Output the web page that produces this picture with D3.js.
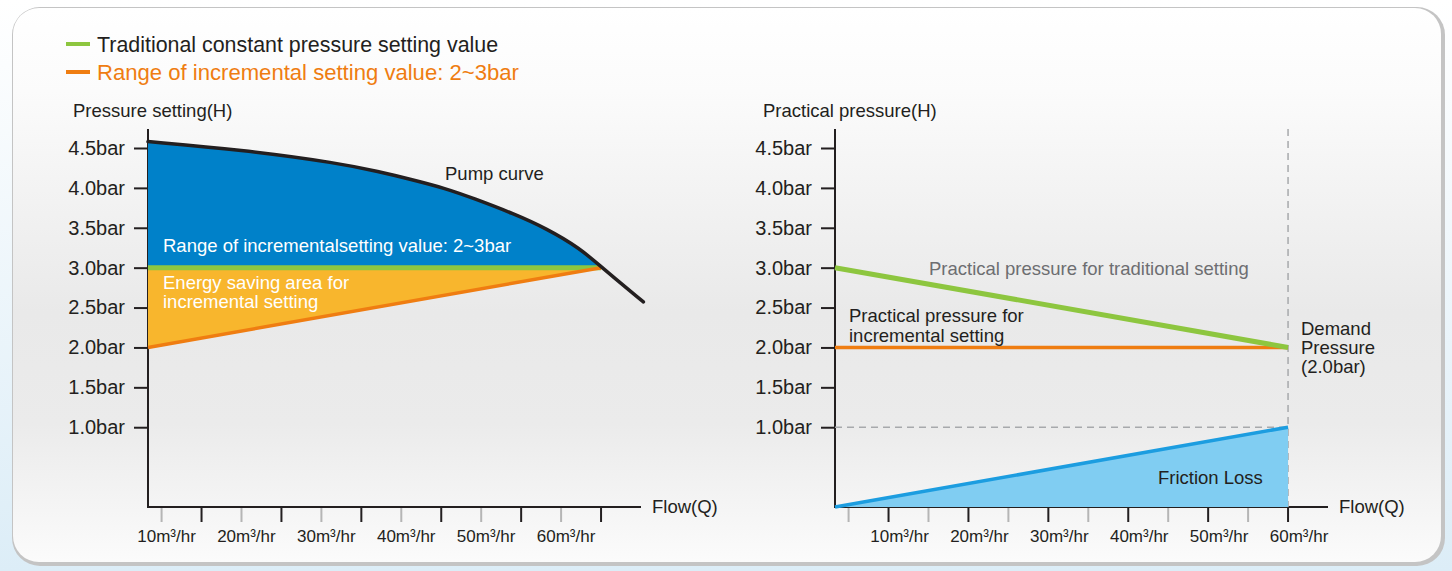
<!DOCTYPE html>
<html>
<head>
<meta charset="utf-8">
<script src="https://cdn.jsdelivr.net/npm/d3@7"></script>
<style>
  body { margin: 0; background: #fff; }
  svg { display: block; font-family: "Liberation Sans", Arial, sans-serif; }
</style>
</head>
<body>
<div class="canvas"></div>
<script>
// chart values

const flowTicks = [10, 20, 30, 40, 50, 60];
const flowMinorTicks = [5, 15, 25, 35, 45, 55];
const barTicks = [1.0, 1.5, 2.0, 2.5, 3.0, 3.5, 4.0, 4.5];

// pump curve (flow m3/hr, pressure bar)
const pumpFlow = [3.3, 14.8, 27.3, 32.3, 35.7, 40.7, 44.0, 49.0, 53.2, 57.4, 60, 65.3];
const pumpBar = [4.58, 4.48, 4.31, 4.20, 4.12, 3.99, 3.87, 3.68, 3.49, 3.24, 3.01, 2.57];

// left chart: settings
const settingFlow = [3.3, 60];
const traditionalSetting = [3.0, 3.0];
const incrementalSetting = [2.0, 3.0];

// right chart: practical pressure
const practicalFlow = [3.3, 60];
const practicalTraditional = [3.0, 2.0];
const practicalIncremental = [2.0, 2.0];
const frictionLoss = [0, 1.0];
const demandFlow = 60;
const demandBar = 1.0;

const W = 1452, H = 571;
const C = {
  text: '#231f20', green: '#8dc63f', orange: '#ef7d11', blue: '#0081c9',
  yellow: '#f8b62d', lightBlue: '#80cdf2', lineBlue: '#1c9de0', grey: '#6d6e71'
};

const svg = d3.select('.canvas').append('svg')
    .attr('width', W)
    .attr('height', H);

const defs = svg.append('defs');
const bg = defs.append('linearGradient').attr('id', 'pageBg')
    .attr('x1', 0).attr('y1', 0).attr('x2', 0).attr('y2', 1);
bg.append('stop').attr('offset', '0%').attr('stop-color', '#ffffff');
bg.append('stop').attr('offset', '100%').attr('stop-color', '#dcedf7');

const panelBg = defs.append('linearGradient').attr('id', 'panelBg')
    .attr('x1', 0).attr('y1', 0).attr('x2', 0).attr('y2', 1);
[[0, '#ffffff'], [0.15, '#fbfbfb'], [0.55, '#e9e9e9'], [0.75, '#ebebeb'], [1, '#fbfbfb']]
  .forEach(s => panelBg.append('stop').attr('offset', s[0]).attr('stop-color', s[1]));

svg.append('rect').attr('width', W).attr('height', H).attr('fill', 'url(#pageBg)');
svg.append('rect')
    .attr('x', 12).attr('y', 7).attr('width', 1433).attr('height', 559)
    .attr('rx', 28).attr('fill', '#c4c4c4');
svg.append('rect')
    .attr('x', 13).attr('y', 8).attr('width', 1428).attr('height', 554)
    .attr('rx', 26).attr('fill', 'url(#panelBg)');

// legend
const legend = [
  { label: 'Traditional constant pressure setting value', color: C.green, textColor: C.text, size: 21.4 },
  { label: 'Range of incremental setting value: 2~3bar', color: C.orange, textColor: C.orange, size: 22.1 }
];
legend.forEach((d, i) => {
  const g = svg.append('g').attr('transform', `translate(66, ${44 + i * 28})`);
  g.append('line').attr('x1', 0).attr('x2', 24)
      .attr('stroke', d.color).attr('stroke-width', 4);
  g.append('text').attr('x', 31).attr('dy', '0.35em')
      .attr('fill', d.textColor).style('font-size', d.size + 'px').text(d.label);
});

// scales shared shape
const y = d3.scaleLinear().domain([0, 4.5]).range([507, 148]);

function drawAxes(x0, labelDx, yTitle, titleX) {
  const x = d3.scaleLinear().domain([3.3, 65]).range([x0, x0 + 493]);
  const g = svg.append('g');

  // y axis
  const ya = g.append('g').attr('transform', `translate(${x0},0)`)
      .call(d3.axisLeft(y).tickValues(barTicks).tickSize(14).tickPadding(9)
        .tickFormat(d => d3.format('.1f')(d) + 'bar'));
  ya.select('.domain').remove();
  ya.selectAll('line').attr('stroke', C.text).attr('stroke-width', 2);
  ya.selectAll('text').attr('fill', C.text).style('font-size', '20px')
      .style('font-family', '"Liberation Sans", Arial, sans-serif');
  g.append('line').attr('x1', x0).attr('x2', x0).attr('y1', 129).attr('y2', y(0) + 1)
      .attr('stroke', C.text).attr('stroke-width', 2);

  // x axis
  const xa = g.append('g').attr('transform', `translate(0,${y(0)})`);
  xa.selectAll('.minor').data(flowMinorTicks).join('line')
      .attr('x1', d => x(d)).attr('x2', d => x(d)).attr('y1', 1).attr('y2', 15)
      .attr('stroke', '#b5b5b5').attr('stroke-width', 2);
  xa.selectAll('.major').data(flowTicks).join('line')
      .attr('x1', d => x(d)).attr('x2', d => x(d)).attr('y1', 1).attr('y2', 15)
      .attr('stroke', C.text).attr('stroke-width', 2);
  xa.append('line').attr('x1', x0 - 1).attr('x2', x.range()[1])
      .attr('stroke', C.text).attr('stroke-width', 2);
  xa.selectAll('.lbl').data(flowTicks).join('text')
      .attr('x', d => x(d) + labelDx).attr('y', 35)
      .attr('text-anchor', 'middle').attr('fill', C.text).style('font-size', '17px')
      .text(d => d + 'm³/hr');
  g.append('text').attr('x', x.range()[1] + 11).attr('y', y(0)).attr('dy', '0.35em')
      .attr('fill', C.text).style('font-size', '18.5px').text('Flow(Q)');

  g.append('text').attr('x', titleX).attr('y', 117)
      .attr('fill', C.text).style('font-size', '18.5px').text(yTitle);
  return x;
}

// ---------- left chart ----------
const xL = drawAxes(148, -35, 'Pressure setting(H)', 73);

const pump = pumpFlow.map((f, i) => ({ flow: f, bar: pumpBar[i] }));
const pumpLine = d3.line().x(d => xL(d.flow)).y(d => y(d.bar)).curve(d3.curveBasis);

defs.append('clipPath').attr('id', 'pumpClip')
  .append('rect')
    .attr('x', xL(3.3)).attr('y', 0)
    .attr('width', xL(60) - xL(3.3)).attr('height', y(3.0));

svg.append('path')
    .datum(pump)
    .attr('fill', C.blue)
    .attr('clip-path', 'url(#pumpClip)')
    .attr('d', d3.area().x(d => xL(d.flow)).y0(y(3.0)).y1(d => y(d.bar)).curve(d3.curveBasis));

const setting = settingFlow.map((f, i) => ({ flow: f, trad: traditionalSetting[i], inc: incrementalSetting[i] }));
svg.append('path')
    .datum(setting)
    .attr('fill', C.yellow)
    .attr('d', d3.area().x(d => xL(d.flow)).y0(d => y(d.trad)).y1(d => y(d.inc)));

svg.append('path')
    .datum(setting)
    .attr('fill', 'none').attr('stroke', C.green).attr('stroke-width', 5)
    .attr('d', d3.line().x(d => xL(d.flow)).y(d => y(d.trad)));
svg.append('path')
    .datum(setting)
    .attr('fill', 'none').attr('stroke', C.orange).attr('stroke-width', 3.5)
    .attr('d', d3.line().x(d => xL(d.flow)).y(d => y(d.inc)));

svg.append('path')
    .datum(pump)
    .attr('fill', 'none').attr('stroke', C.text).attr('stroke-width', 3.5)
    .attr('stroke-linecap', 'round')
    .attr('d', pumpLine);

svg.append('text').attr('x', 445).attr('y', 180)
    .attr('fill', C.text).style('font-size', '18.5px').text('Pump curve');
svg.append('text').attr('x', 163).attr('y', 252)
    .attr('fill', '#fff').style('font-size', '18.5px').text('Range of incrementalsetting value: 2~3bar');
svg.append('text').attr('x', 163).attr('y', 289)
    .attr('fill', '#fff').style('font-size', '18.5px').text('Energy saving area for');
svg.append('text').attr('x', 163).attr('y', 308)
    .attr('fill', '#fff').style('font-size', '18.5px').text('incremental setting');

// ---------- right chart ----------
const xR = drawAxes(835, 11, 'Practical pressure(H)', 763);

const practical = practicalFlow.map((f, i) => ({
  flow: f, trad: practicalTraditional[i], inc: practicalIncremental[i]
}));
const friction = [{ flow: 3.3, bar: frictionLoss[0] }, { flow: demandFlow, bar: frictionLoss[1] }];

// guide lines
svg.append('line')
    .attr('x1', xR(demandFlow)).attr('x2', xR(demandFlow))
    .attr('y1', 129).attr('y2', y(0))
    .attr('stroke', '#a7a9ac').attr('stroke-width', 1.5).attr('stroke-dasharray', '7,5');
svg.append('line')
    .attr('x1', xR(3.3)).attr('x2', xR(demandFlow))
    .attr('y1', y(demandBar)).attr('y2', y(demandBar))
    .attr('stroke', '#a7a9ac').attr('stroke-width', 1.5).attr('stroke-dasharray', '7,5');

svg.append('path')
    .datum(friction)
    .attr('fill', C.lightBlue)
    .attr('d', d3.area().x(d => xR(d.flow)).y0(y(0)).y1(d => y(d.bar)));
svg.append('path')
    .datum(friction)
    .attr('fill', 'none').attr('stroke', C.lineBlue).attr('stroke-width', 3.5)
    .attr('d', d3.line().x(d => xR(d.flow)).y(d => y(d.bar)));

svg.append('path')
    .datum(practical)
    .attr('fill', 'none').attr('stroke', C.orange).attr('stroke-width', 3.5)
    .attr('d', d3.line().x(d => xR(d.flow)).y(d => y(d.inc)));
svg.append('path')
    .datum(practical)
    .attr('fill', 'none').attr('stroke', C.green).attr('stroke-width', 5)
    .attr('d', d3.line().x(d => xR(d.flow)).y(d => y(d.trad)));

svg.append('text').attr('x', 929).attr('y', 275)
    .attr('fill', C.grey).style('font-size', '18.5px').text('Practical pressure for traditional setting');
svg.append('text').attr('x', 849).attr('y', 322)
    .attr('fill', C.text).style('font-size', '18.5px').text('Practical pressure for');
svg.append('text').attr('x', 849).attr('y', 342)
    .attr('fill', C.text).style('font-size', '18.5px').text('incremental setting');
['Demand', 'Pressure', '(2.0bar)'].forEach((t, i) => {
  svg.append('text').attr('x', 1301).attr('y', 335 + i * 19)
      .attr('fill', C.text).style('font-size', '18.5px').text(t);
});
svg.append('text').attr('x', 1158).attr('y', 484)
    .attr('fill', C.text).style('font-size', '18.5px').text('Friction Loss');
</script>
</body>
</html>
